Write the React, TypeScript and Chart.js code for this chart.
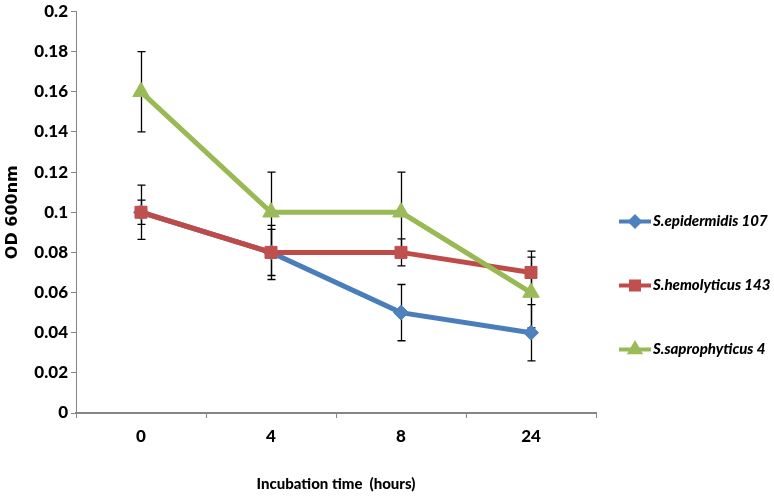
import React, { useEffect, useRef } from 'react';
import { Chart, registerables } from 'chart.js';

Chart.register(...registerables);

// ---- data ----
const categories = ['0', '4', '8', '24'];
const seriesNames = ['S.epidermidis 107', 'S.hemolyticus 143', 'S.saprophyticus 4'];
const epidermidis = [0.1, 0.08, 0.05, 0.04];
const hemolyticus = [0.1, 0.08, 0.08, 0.07];
const saprophyticus = [0.16, 0.1, 0.1, 0.06];
const epidermidisErr = [0.006, 0.0115, 0.014, 0.014];
const hemolyticusErr = [0.0135, 0.0135, 0.0067, 0.0106];
const saprophyticusErr = [0.02, 0.02, 0.02, 0.0176];
const yTickLabels = ['0', '0.02', '0.04', '0.06', '0.08', '0.1', '0.12', '0.14', '0.16', '0.18', '0.2'];
const xTitle = 'Incubation time  (hours)';
const yTitle = 'OD 600nm';

const errorSets = [epidermidisErr, hemolyticusErr, saprophyticusErr];
const lineColors = ['#4A7EBB', '#BE4B48', '#98B954'];
const markerColors = ['#4F81BD', '#C0504D', '#9BBB59'];
const markerStyles = ['rectRot', 'rect', 'triangle'];
const markerRadii = [7.5, 8.5, 9.5];

const NARROW = "Lato, 'Liberation Sans Narrow', sans-serif";
const AXIS_GREY = '#868686';

function drawMarker(ctx: CanvasRenderingContext2D, style: string, r: number, x: number, y: number, color: string) {
  ctx.save();
  ctx.fillStyle = color;
  ctx.beginPath();
  if (style === 'rectRot') {
    ctx.moveTo(x, y - r);
    ctx.lineTo(x + r, y);
    ctx.lineTo(x, y + r);
    ctx.lineTo(x - r, y);
  } else if (style === 'rect') {
    const s = r * Math.SQRT1_2;
    ctx.rect(x - s, y - s, 2 * s, 2 * s);
  } else {
    ctx.moveTo(x, y - r);
    ctx.lineTo(x + r * Math.cos(Math.PI / 6), y + r / 2);
    ctx.lineTo(x - r * Math.cos(Math.PI / 6), y + r / 2);
  }
  ctx.closePath();
  ctx.fill();
  ctx.restore();
}

const errorBarPlugin = {
  id: 'errorBars',
  beforeDatasetsDraw(chart: any) {
    const { ctx } = chart;
    const xs = chart.scales.x;
    const ys = chart.scales.y;
    ctx.save();
    ctx.strokeStyle = '#000';
    ctx.lineWidth = 1.3;
    chart.data.datasets.forEach((ds: any, di: number) => {
      const errs = errorSets[di];
      ds.data.forEach((v: number, i: number) => {
        const px = Math.round(xs.getPixelForValue(i)) + 0.5;
        const top = ys.getPixelForValue(v + errs[i]);
        const bot = ys.getPixelForValue(v - errs[i]);
        ctx.beginPath();
        ctx.moveTo(px, top);
        ctx.lineTo(px, bot);
        ctx.moveTo(px - 4, top);
        ctx.lineTo(px + 4, top);
        ctx.moveTo(px - 4, bot);
        ctx.lineTo(px + 4, bot);
        ctx.stroke();
      });
    });
    ctx.restore();
  },
};

const sideLegendPlugin = {
  id: 'sideLegend',
  afterDraw(chart: any) {
    const { ctx, chartArea } = chart;
    const x0 = chartArea.right + 23;
    chart.data.datasets.forEach((ds: any, i: number) => {
      const cy = chartArea.top + 210 + i * 64;
      ctx.save();
      ctx.strokeStyle = lineColors[i];
      ctx.lineWidth = 4;
      ctx.beginPath();
      ctx.moveTo(x0, cy);
      ctx.lineTo(x0 + 32, cy);
      ctx.stroke();
      drawMarker(ctx, markerStyles[i], markerRadii[i], x0 + 16, cy, markerColors[i]);
      ctx.fillStyle = '#000';
      ctx.font = `italic 900 15px ${NARROW}`;
      ctx.textBaseline = 'middle';
      ctx.textAlign = 'left';
      ctx.fillText(ds.label, x0 + 34, cy);
      ctx.restore();
    });
  },
};

export default function App() {
  const canvasRef = useRef<HTMLCanvasElement | null>(null);

  useEffect(() => {
    const canvas = canvasRef.current;
    if (!canvas) return;
    const seriesData = [epidermidis, hemolyticus, saprophyticus];
    const chart = new Chart(canvas, {
      type: 'line',
      data: {
        labels: categories,
        datasets: seriesData.map((d, i) => ({
          label: seriesNames[i],
          data: d,
          borderColor: lineColors[i],
          backgroundColor: markerColors[i],
          pointBackgroundColor: markerColors[i],
          pointBorderColor: markerColors[i],
          pointBorderWidth: 1,
          borderWidth: 5,
          pointStyle: markerStyles[i] as any,
          pointRadius: markerRadii[i],
          tension: 0,
          fill: false,
          order: 3 - i,
        })),
      },
      options: {
        animation: false,
        responsive: false,
        devicePixelRatio: 1,
        layout: { padding: { left: 0, top: 11, right: 178, bottom: 0 } },
        plugins: {
          legend: { display: false },
          tooltip: { enabled: false },
        },
        scales: {
          x: {
            type: 'category',
            offset: true,
            grid: {
              display: true,
              drawOnChartArea: false,
              drawTicks: true,
              tickLength: 5,
              offset: true,
              color: AXIS_GREY,
            },
            border: { color: AXIS_GREY, width: 2 },
            ticks: {
              color: '#000',
              padding: 8,
              font: { family: NARROW, size: 17, weight: '900' },
            },
            title: {
              display: true,
              text: xTitle,
              color: '#000',
              font: { family: NARROW, size: 15, weight: '900' },
              padding: { top: 4, bottom: 4 },
            },
            afterFit: (s: any) => {
              s.height = 84;
            },
          },
          y: {
            min: 0,
            max: 0.2,
            grid: {
              display: true,
              drawOnChartArea: false,
              drawTicks: true,
              tickLength: 5,
              color: AXIS_GREY,
            },
            border: { color: AXIS_GREY, width: 1 },
            ticks: {
              stepSize: 0.02,
              color: '#000',
              padding: 3,
              font: { family: NARROW, size: 17, weight: '900', lineHeight: 1 },
              callback: (v: any) => yTickLabels[Math.round(Number(v) / 0.02)],
            },
            title: {
              display: true,
              text: yTitle,
              color: '#000',
              font: { family: "'DejaVu Sans', sans-serif", size: 16, weight: 'bold' },
              padding: { top: 3, bottom: 4 },
            },
            afterFit: (s: any) => {
              s.width = 76;
            },
          },
        },
      },
      plugins: [errorBarPlugin, sideLegendPlugin],
    });
    return () => chart.destroy();
  }, []);

  return (
    <div style={{ position: 'absolute', left: 0, top: 0, width: 774, height: 497, background: '#fff' }}>
      <canvas ref={canvasRef} width={774} height={497} style={{ display: 'block', width: 774, height: 497 }} />
    </div>
  );
}
